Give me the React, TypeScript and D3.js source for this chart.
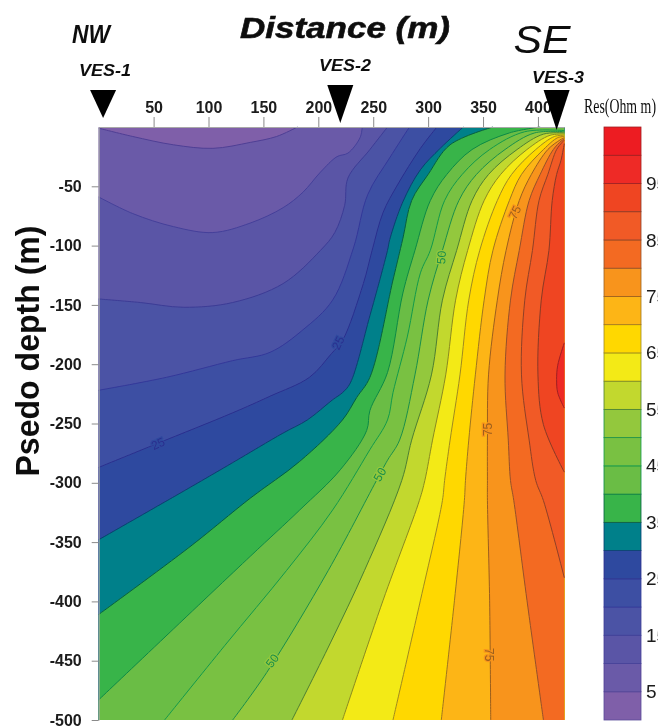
import React from 'react';
import * as d3 from 'd3';

const width = 658;
const height = 726;
// plot area in page pixels
const left = 98.7, right = 564.3, top = 127, bottom = 720;

const xMax = 424;
const yMin = -500;
const xTicks = [50, 100, 150, 200, 250, 300, 350, 400];
const yTicks = [-50, -100, -150, -200, -250, -300, -350, -400, -450, -500];
const legendTicks = [5, 15, 25, 35, 45, 55, 65, 75, 85, 95];

// one colour per 5 ohm m band, low to high
const bandColors = [
  '#7f5fa9', '#6a5aa8', '#5a55a6', '#4c53a5', '#3d50a3', '#2f4a9f', '#00808a',
  '#38b44a', '#6bbd45', '#79c143', '#93c83d', '#c2d82e', '#f3ea17', '#ffd800',
  '#fdb515', '#f8941d', '#f36b21', '#f15a28', '#ef4423', '#ee2b26', '#ed1c24',
];
// line at the lower edge of each band
const lineColors = [
  '#5a4a9a', '#4f3f95', '#45409a', '#3c3c96', '#33389a', '#2b2f8f', '#0b3f70',
  '#06603f', '#0c8a45', '#129a4a', '#1a8f4a', '#4d7f30', '#8a8a20', '#a08a20',
  '#a0761f', '#9c5f20', '#96502a', '#8f4028', '#8a3a25', '#a02020', '#a02020',
];

// contour lines as [distance, depth], from the top/right end
const contour5 = [[181, 0], [162, -8], [138, -13], [104, -18], [68, -15], [31, -8], [0, -1]];
const contour10 = [[240, 0], [238, -9], [227, -22], [217, -25], [202, -38], [186, -55], [168, -68], [138, -81], [104, -89], [68, -84], [31, -73], [0, -59]];
const contour15 = [[263, 0], [247, -19], [227, -43], [224, -66], [215, -89], [202, -104], [168, -132], [122, -148], [77, -152], [38, -148], [0, -145]];
const contour20 = [[283, 0], [265, -26], [245, -57], [232, -102], [213, -146], [186, -171], [156, -190], [122, -197], [62, -211], [0, -222]];
const contour25 = [[308, 0], [293, -18], [272, -49], [259, -72], [249, -104], [241, -132], [222, -180], [212, -191], [192, -211], [156, -227], [122, -241], [53, -267], [0, -287]];
const contour30 = [[332, 0], [311, -18], [293, -36], [277, -63], [265, -95], [263, -104], [247, -159], [229, -216], [222, -224], [213, -230], [190, -247], [168, -258], [122, -283], [83, -304], [0, -348]];
const contour35 = [[359, 0], [320, -15], [300, -40], [285, -62], [277, -94], [268, -129], [247, -211], [235, -228], [222, -247], [183, -282], [138, -313], [83, -354], [0, -411]];
const contour40 = [[402, 0], [374, -5], [340, -19], [317, -40], [302, -62], [288, -104], [277, -140], [263, -207], [247, -239], [244, -256], [220, -289], [183, -323], [138, -362], [0, -483]];
const contour45 = [[424, -3], [388, -4], [356, -19], [331, -40], [315, -62], [302, -104], [293, -123], [281, -177], [268, -224], [263, -247], [247, -272], [213, -323], [171, -374], [115, -437], [60, -500]];
const contour50 = [[424, -4], [397, -5], [370, -19], [344, -40], [328, -62], [313, -104], [300, -146], [288, -209], [274, -264], [263, -281], [253, -298], [209, -374], [153, -460], [122, -500]];
const contour55 = [[424, -5], [405, -6], [381, -19], [355, -40], [340, -62], [326, -104], [313, -146], [303, -209], [285, -264], [276, -298], [242, -374], [211, -435], [176, -500]];
const contour60 = [[424, -6], [411, -7], [390, -19], [366, -40], [351, -62], [336, -104], [325, -146], [316, -209], [304, -264], [297, -298], [292, -315], [259, -399], [222, -500]];
const contour65 = [[424, -7], [415, -8], [398, -19], [376, -40], [363, -62], [347, -104], [337, -146], [329, -209], [320, -264], [315, -298], [313, -315], [293, -399], [268, -500]];
const contour70 = [[424, -8], [418, -9], [405, -19], [385, -40], [374, -62], [359, -104], [351, -146], [343, -209], [337, -264], [334, -298], [333, -315], [324, -399], [312, -500]];
const contour75 = [[424, -9], [420, -11], [409, -19], [394, -40], [383, -62], [371, -104], [363, -146], [355, -209], [354, -264], [354, -298], [354, -315], [356, -399], [357, -500]];
const contour80 = [[424, -10], [421, -12], [414, -19], [402, -40], [392, -62], [383, -104], [375, -146], [370, -209], [373, -264], [375, -298], [378, -315], [390, -399], [405, -500]];
const contour85 = [[424, -11], [422, -13], [417, -19], [409, -40], [401, -62], [395, -104], [388, -146], [385, -209], [392, -264], [398, -298], [405, -315], [424, -380]];
const contour90 = [[424, -14], [421, -28], [417, -40], [413, -62], [410, -104], [403, -146], [400, -209], [405, -251], [424, -291]];
const contour95 = [[424, -182], [418, -201], [417, -213], [418, -224], [424, -237]];

const contours = [
  contour5, contour10, contour15, contour20, contour25, contour30, contour35,
  contour40, contour45, contour50, contour55, contour60, contour65, contour70,
  contour75, contour80, contour85, contour90, contour95,
];

// text on the lines: level, distance, depth, rotation
const lineLabels = [
  [25, 54, -267, -25], [25, 218, -182, -65],
  [50, 312, -110, -85], [50, 256, -293, -60], [50, 158, -450, -52],
  [75, 379, -72, -65], [75, 354, -255, -90], [75, 356, -445, 90],
];

const stations = ['VES-1', 'VES-2', 'VES-3'];
const stationDist = [4, 220, 417];

function App() {
  const svgRef = React.useRef<SVGSVGElement>(null);

  React.useEffect(() => {
    const x = d3.scaleLinear().domain([0, xMax]).range([left, right]);
    const y = d3.scaleLinear().domain([0, yMin]).range([top, bottom]);
    const barY = d3.scaleLinear().domain([0, 105]).range([bottom, top]);

    const svg = d3.select(svgRef.current);
    svg.selectAll('*').remove();

    const root = svg.append('g').attr('filter', 'url(#soft)');
    svg.append('defs').append('filter').attr('id', 'soft')
      .attr('filterUnits', 'userSpaceOnUse')
      .attr('x', 0).attr('y', 0)
      .attr('width', width).attr('height', height)
      .append('feGaussianBlur').attr('stdDeviation', 0.45);

    // base band, then each contour paints everything above it
    root.append('rect')
      .attr('x', x(0)).attr('y', y(0))
      .attr('width', x(xMax) - x(0)).attr('height', y(yMin) - y(0))
      .attr('fill', bandColors[0]);

    const line = d3.line<number[]>()
      .x((d) => x(d[0]))
      .y((d) => y(d[1]))
      .curve(d3.curveCatmullRom.alpha(0.5));

    const closeArea = (pts: number[][]) => {
      const first = pts[0], last = pts[pts.length - 1];
      const rest: number[][] = [];
      if (last[0] < xMax) {
        if (last[0] === 0) rest.push([0, yMin]);
        rest.push([xMax, yMin]);
        if (first[1] === 0) rest.push([xMax, 0]);
      }
      return line(pts) + rest.map((p) => `L${x(p[0])},${y(p[1])}`).join('') + 'Z';
    };

    root.selectAll('.band')
      .data(contours)
      .join('path')
      .attr('class', 'band')
      .attr('fill', (_, i) => bandColors[i + 1])
      .attr('d', (d) => closeArea(d));

    root.selectAll('.contour')
      .data(contours)
      .join('path')
      .attr('class', 'contour')
      .attr('fill', 'none')
      .attr('stroke', (_, i) => lineColors[i + 1])
      .attr('stroke-width', 1)
      .attr('d', (d) => line(d));

    // labels sit on a halo of the band colour, this makes the gap in the line
    root.selectAll('.lineLabel')
      .data(lineLabels)
      .join('text')
      .attr('class', 'lineLabel')
      .attr('transform', (d) => `translate(${x(d[1])},${y(d[2])}) rotate(${d[3]})`)
      .attr('text-anchor', 'middle')
      .attr('dy', '0.35em')
      .attr('font-family', 'Liberation Sans')
      .attr('font-size', 12)
      .attr('fill', (d) => lineColors[d[0] / 5])
      .attr('stroke', (d) => bandColors[d[0] / 5])
      .attr('stroke-width', 2.5)
      .attr('paint-order', 'stroke')
      .text((d) => d[0]);

    // axes
    const xAxis = d3.axisTop(x).tickValues(xTicks).tickSize(10).tickSizeOuter(0).tickPadding(4);
    const xGroup = root.append('g').attr('transform', `translate(0,${top})`).call(xAxis);
    const yAxis = d3.axisLeft(y).tickValues(yTicks).tickSize(7).tickSizeOuter(0).tickPadding(10)
      .tickFormat((d) => `${d}`);
    const yGroup = root.append('g').attr('transform', `translate(${left},0)`).call(yAxis);
    for (const g of [xGroup, yGroup]) {
      g.selectAll('line').attr('stroke', '#8a8a8a');
      g.select('.domain').attr('stroke', '#a8a8a8');
      g.selectAll('text')
        .attr('fill', '#1a1a1a')
        .attr('font-family', 'Liberation Sans')
        .attr('font-weight', 'bold')
        .attr('font-size', 16);
    }

    // station markers
    const markerTip = [118, 123, 130];
    const markerTop = [90, 85, 90];
    const labelY = [76, 71, 83];
    const labelX = [105, 345, 558];
    root.selectAll('.marker')
      .data(stationDist)
      .join('path')
      .attr('class', 'marker')
      .attr('fill', '#000')
      .attr('d', (d, i) => `M${x(d) - 13},${markerTop[i]}H${x(d) + 13}L${x(d)},${markerTip[i]}Z`);
    root.selectAll('.station')
      .data(stations)
      .join('text')
      .attr('class', 'station')
      .attr('x', (_, i) => labelX[i])
      .attr('y', (_, i) => labelY[i])
      .attr('text-anchor', 'middle')
      .attr('font-family', 'Liberation Sans')
      .attr('font-weight', 'bold')
      .attr('font-style', 'italic')
      .attr('font-size', 16)
      .attr('textLength', 52)
      .attr('lengthAdjust', 'spacingAndGlyphs')
      .attr('fill', '#111')
      .text((d) => d);

    // titles
    const addText = (txt: string, tx: number, ty: number, size: number, len: number, weight: string, style: string, family = 'Liberation Sans') =>
      root.append('text')
        .attr('x', tx).attr('y', ty)
        .attr('text-anchor', 'middle')
        .attr('font-family', family)
        .attr('font-size', size)
        .attr('font-weight', weight)
        .attr('font-style', style)
        .attr('textLength', len)
        .attr('lengthAdjust', 'spacingAndGlyphs')
        .attr('fill', '#111')
        .text(txt);

    addText('Distance (m)', 345, 38, 29, 210, 'bold', 'italic').attr('stroke', '#111').attr('stroke-width', 0.6);
    addText('NW', 91, 43, 26, 38, 'bold', 'italic');
    addText('SE', 542, 53, 38, 57, 'normal', 'italic');
    addText('Res(Ohm m)', 620, 113, 21, 72, 'normal', 'normal', 'Liberation Serif');
    addText('Psedo depth (m)', 39, 351, 33, 251, 'bold', 'normal')
      .attr('x', 0).attr('y', 0)
      .attr('transform', 'translate(39,351) rotate(-90)');

    // colour bar
    const barX = 604, barW = 37;
    root.selectAll('.swatch')
      .data(bandColors)
      .join('rect')
      .attr('class', 'swatch')
      .attr('x', barX)
      .attr('width', barW)
      .attr('y', (_, i) => barY(i * 5 + 5))
      .attr('height', (_, i) => barY(i * 5) - barY(i * 5 + 5))
      .attr('fill', (d) => d)
      .attr('stroke', (_, i) => lineColors[i])
      .attr('stroke-width', 0.8);

    const barAxis = d3.axisRight(barY).tickValues(legendTicks).tickSize(0).tickPadding(5);
    const barGroup = root.append('g').attr('transform', `translate(${barX + barW},0)`).call(barAxis);
    barGroup.select('.domain').remove();
    barGroup.selectAll('text')
      .attr('fill', '#1a1a1a')
      .attr('font-family', 'Liberation Sans')
      .attr('font-size', 19);
  }, []);

  return (
    <svg
      ref={svgRef}
      width={width}
      height={height}
      style={{ position: 'absolute', left: 0, top: 0, background: '#fff' }}
    />
  );
}

export default App;
